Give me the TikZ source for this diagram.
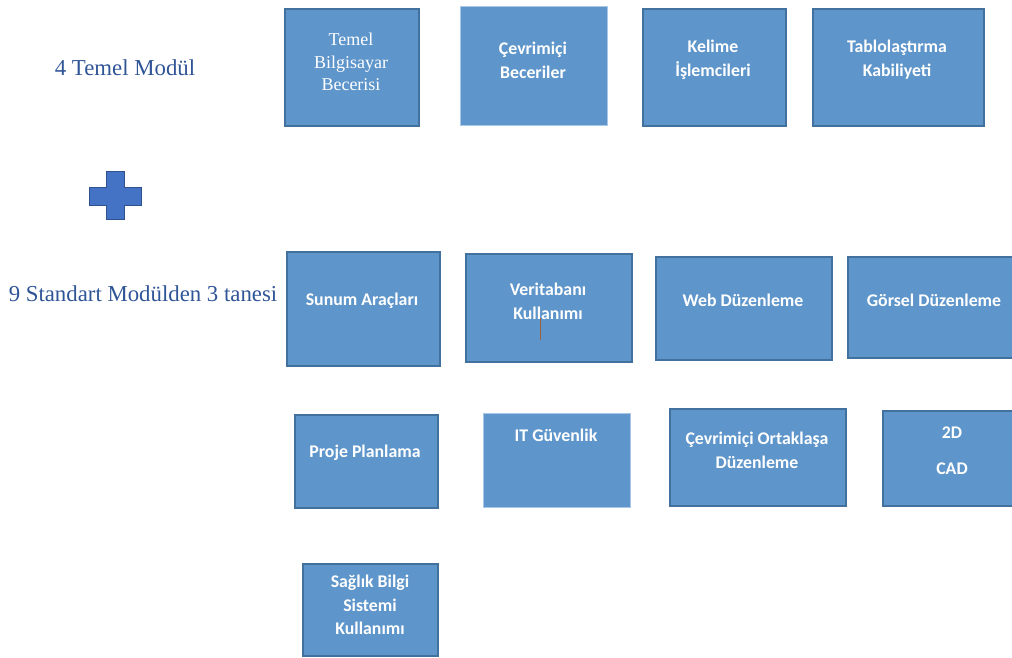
\documentclass[tikz,border=0pt]{standalone}
\usepackage{fontspec}
\setmainfont{Liberation Serif}
\newfontfamily\boxfont{Carlito}
\definecolor{boxfill}{HTML}{5E95CA}
\definecolor{boxedge}{HTML}{41719C}
\definecolor{lightedge}{HTML}{A9C8E8}
\definecolor{labelblue}{HTML}{2F5597}
\definecolor{plusfill}{HTML}{4472C4}
\definecolor{plusedge}{HTML}{2F528F}
\definecolor{cursorc}{HTML}{A0623A}
\begin{document}
\begin{tikzpicture}[x=1pt,y=-1pt,
  modbox/.style={draw=boxedge, line width=1.5pt, fill=boxfill, anchor=north west, inner sep=0pt},
  lightbox/.style={modbox, draw=lightedge, line width=1pt},
  boxtext/.style={text=white, align=center, font=\boxfont\bfseries\fontsize{17.8}{24}\selectfont},
  serifbox/.style={text=white, align=center, font=\fontsize{18}{22.5}\selectfont},
  sidelabel/.style={text=labelblue, font=\fontsize{22.8}{26}\selectfont}]
\useasboundingbox (0,0) rectangle (1012,657);
% row 1
\node[modbox, minimum width=134pt, minimum height=117pt] (b1) at (284,8) {};
\node[lightbox, minimum width=147pt, minimum height=119pt] (b2) at (460,6) {};
\node[modbox, minimum width=143pt, minimum height=117pt] (b3) at (642,8) {};
\node[modbox, minimum width=171pt, minimum height=117pt] (b4) at (812,8) {};
% row 2
\node[modbox, minimum width=153pt, minimum height=114pt] (b5) at (286,251) {};
\node[modbox, minimum width=166pt, minimum height=108pt] (b6) at (465,253) {};
\node[modbox, minimum width=176pt, minimum height=103pt] (b7) at (655,256) {};
\node[modbox, minimum width=170pt, minimum height=101pt] (b8) at (847,256) {};
% row 3
\node[modbox, minimum width=143pt, minimum height=93pt] (b9) at (294,414) {};
\node[lightbox, minimum width=147pt, minimum height=94pt] (b10) at (483,413) {};
\node[modbox, minimum width=176pt, minimum height=97pt] (b11) at (669,408) {};
\node[modbox, minimum width=135pt, minimum height=95pt] (b12) at (882,410) {};
% row 4
\node[modbox, minimum width=135pt, minimum height=92pt] (b13) at (302,563) {};

% texts
\node[serifbox] (t1) at (351,62) {Temel\\Bilgisayar\\Becerisi};
\node[boxtext] (t2) at (533,60) {Çevrimiçi\\Beceriler};
\node[boxtext] (t3) at (713,60) {Kelime\\İşlemcileri};
\node[boxtext] (t4) at (897,60) {Tablolaştırma\\Kabiliyeti};
\node[boxtext] (t5) at (362,301) {Sunum Araçları};
\node[boxtext] (t6) at (548,301) {Veritabanı\\Kullanımı};
\node[boxtext] (t7) at (743,300) {Web Düzenleme};
\node[boxtext] (t8) at (934,300) {Görsel Düzenleme};
\node[boxtext] (t9) at (365,453) {Proje Planlama};
\node[boxtext] (t10) at (556,435) {IT Güvenlik};
\node[boxtext] (t11) at (757,450) {Çevrimiçi Ortaklaşa\\Düzenleme};
\node[boxtext, font=\boxfont\bfseries\fontsize{17.8}{36}\selectfont] (t12) at (952,451) {2D\\CAD};
\node[boxtext, font=\boxfont\bfseries\fontsize{17.8}{23.5}\selectfont] (t13) at (370,605) {Sağlık Bilgi\\Sistemi\\Kullanımı};

% cursor mark
\coordinate (c1) at (540,318);
\coordinate (c2) at (540,340);
\draw[cursorc, line width=1pt] (c1) -- (c2);

% side labels
\node[sidelabel] (l1) at (125,68) {4 Temel Modül};
\node[sidelabel] (l2) at (143,294) {9 Standart Modülden 3 tanesi};

% plus
\draw[fill=plusfill, draw=plusedge, line width=1pt]
  (106,171) -- (124,171) -- (124,187) -- (141,187) -- (141,205) -- (124,205)
  -- (124,219) -- (106,219) -- (106,205) -- (89,205) -- (89,187) -- (106,187) -- cycle;
\end{tikzpicture}
\end{document}
